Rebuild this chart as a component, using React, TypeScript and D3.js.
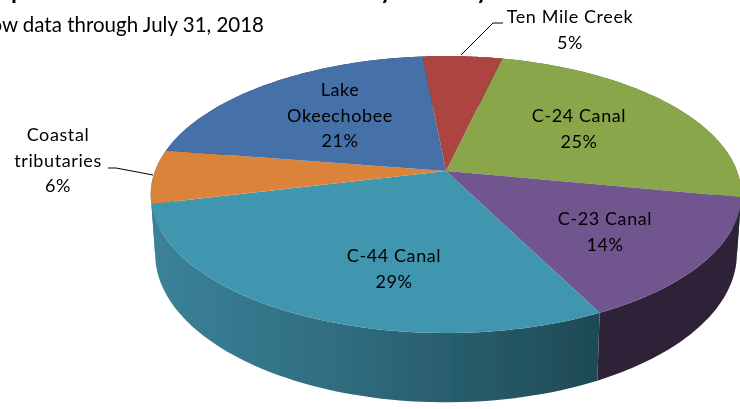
import React from "react";
import * as d3 from "d3";

const categories = ["C-24 Canal", "C-23 Canal", "C-44 Canal", "Coastal tributaries", "Lake Okeechobee", "Ten Mile Creek"];
const shares = [24.4, 14.6, 28.6, 6.3, 21, 5.1];
const topColors = ["#8aa64c", "#70558f", "#4196ae", "#dc833a", "#4470a8", "#ac4441"];
const sideColors = ["#4f6230", "#2d2439", "#2f6a7a", "#3b8299", "#2a4468", "#6a2a28"];
const labelLines = [["C-24 Canal", "25%"], ["C-23 Canal", "14%"], ["C-44 Canal", "29%"], ["Coastal", "tributaries", "6%"], ["Lake", "Okeechobee", "21%"], ["Ten Mile Creek", "5%"]];
const labelX = [579, 605, 394, 58, 340, 570];
const labelTop = [122, 225, 262, 141, 96, 23];

const CX = 446, CY = 171, R = 291, K = 134.5, P = 0.17, DEPTH = 57.5, START = (13 * Math.PI) / 180;
const SHRINK = 0.015;

const project = (a: number, r = 1, z = 0): [number, number] => {
  const X = Math.sin(a) * r;
  const Y = -Math.cos(a) * r;
  const s = 1 / (1 - P * Y);
  const f = 1 - SHRINK * z;
  return [CX + R * X * s * f, CY + K * Y * s + DEPTH * z * s];
};

const line = d3.line();
const arcPts = (a0: number, a1: number, z = 0) =>
  d3.range(0, 61).map((i) => project(a0 + ((a1 - a0) * i) / 60, 1, z));

export default function App() {
  const pie = d3.pie<number>().sort(null).startAngle(START).endAngle(START + 2 * Math.PI);
  const arcs = pie(shares);
  return (
    <svg width={740} height={409} style={{ position: "absolute", left: 0, top: 0, fontFamily: "Lato, sans-serif" }}>
      <defs>
        <linearGradient id="c44side" gradientUnits="userSpaceOnUse" x1={150} x2={600} y1={0} y2={0}>
          <stop offset="0" stopColor="#3b8299" />
          <stop offset="0.45" stopColor="#2f6b7d" />
          <stop offset="1" stopColor="#1e4a54" />
        </linearGradient>
        <filter id="soft" x="0" y="0" width="100%" height="100%">
          <feGaussianBlur stdDeviation="0.35" />
        </filter>
      </defs>
      <g filter="url(#soft)">
        <g fontSize={24} fontWeight={700} fill="#000">
          <text x={11} y={-1}>p</text>
          <text x={380} y={-1}>y</text>
          <text x={476} y={-1}>y</text>
        </g>
        <text x={264} y={32} fontSize={20.5} fill="#000" textAnchor="end">
          Flow data through July 31, 2018
        </text>
        {arcs.map((d, i) => {
          const top = arcPts(d.startAngle, d.endAngle, 0);
          const bot = arcPts(d.startAngle, d.endAngle, 1).reverse();
          return (
            <path key={"s" + i} d={line([...top, ...bot])! + "Z"} fill={i === 2 ? "url(#c44side)" : sideColors[i]} />
          );
        })}
        {arcs.map((d, i) => (
          <path
            key={"t" + i}
            d={line([project(0, 0), ...arcPts(d.startAngle, d.endAngle, 0)])! + "Z"}
            fill={topColors[i]}
          />
        ))}
        <path d={line([[108, 168], [116, 168], [153, 175]])!} fill="none" stroke="#000" strokeWidth={1} />
        <path d={line([[461, 55], [493, 23], [503, 23]])!} fill="none" stroke="#000" strokeWidth={1} />
        {labelLines.map((ls, i) => (
          <text key={"l" + i} fontSize={18} letterSpacing={0.6} fill="#000" textAnchor="middle">
            {ls.map((t, j) => (
              <tspan key={j} x={labelX[i]} y={labelTop[i] + 25.5 * j}>
                {t}
              </tspan>
            ))}
          </text>
        ))}
      </g>
    </svg>
  );
}
